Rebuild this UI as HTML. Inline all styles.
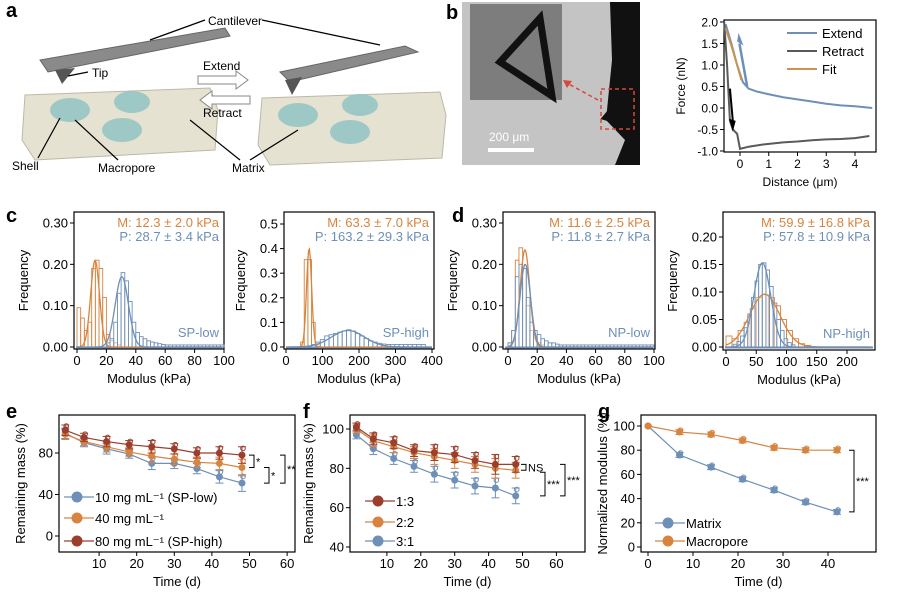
<!DOCTYPE html>
<html><head><meta charset="utf-8"><style>
html,body{margin:0;padding:0;background:#fff;}
svg{display:block;font-family:"Liberation Sans",Arial,sans-serif;}
</style></head><body>
<svg id="fig" width="914" height="606" viewBox="0 0 914 606" xmlns="http://www.w3.org/2000/svg">
<!-- panel letters -->
<g font-weight="bold" font-size="20" fill="#000">
<text x="6" y="17">a</text>
<text x="446" y="19">b</text>
<text x="6" y="222">c</text>
<text x="452" y="222">d</text>
<text x="6" y="418">e</text>
<text x="303" y="418">f</text>
<text x="598" y="418">g</text>
</g>
<!-- panel a illustration -->
<g>
<polygon points="25,95 210,88 218,110 215,150 35,160 22,140" fill="#e6e2d2" stroke="#bdb8a6"/>
<polygon points="262,98 440,92 446,115 442,158 270,165 258,145" fill="#e6e2d2" stroke="#bdb8a6"/>
<ellipse cx="70" cy="110" rx="20" ry="12" fill="#8fc3c4" opacity=".85"/>
<ellipse cx="132" cy="102" rx="18" ry="11" fill="#8fc3c4" opacity=".85"/>
<ellipse cx="122" cy="130" rx="20" ry="12" fill="#8fc3c4" opacity=".85"/>
<ellipse cx="298" cy="115" rx="20" ry="12" fill="#8fc3c4" opacity=".85"/>
<ellipse cx="360" cy="105" rx="18" ry="11" fill="#8fc3c4" opacity=".85"/>
<ellipse cx="350" cy="132" rx="20" ry="12" fill="#8fc3c4" opacity=".85"/>
<polygon points="40,60 225,28 230,36 48,72" fill="#8a8a8a" stroke="#666"/>
<polygon points="55,70 75,68 62,84" fill="#555"/>
<polygon points="280,72 405,46 418,52 290,82" fill="#8a8a8a" stroke="#666"/>
<polygon points="285,80 302,77 292,95" fill="#555"/>
<g stroke="#000" stroke-width="1.2" fill="none">
<line x1="205" y1="20" x2="150" y2="40"/><line x1="262" y1="20" x2="380" y2="45"/>
<line x1="88" y1="72" x2="68" y2="76"/>
<line x1="38" y1="158" x2="60" y2="118"/><line x1="118" y1="160" x2="75" y2="120"/>
<line x1="240" y1="160" x2="190" y2="120"/><line x1="250" y1="160" x2="298" y2="130"/>
</g>
<polygon points="198,76 236,76 236,71 248,80 236,89 236,84 198,84" fill="#fff" stroke="#888"/>
<polygon points="250,96 212,96 212,91 200,100 212,109 212,104 250,104" fill="#fff" stroke="#888"/>
<g font-size="12" fill="#000">
<text x="208" y="25">Cantilever</text>
<text x="92" y="77">Tip</text>
<text x="203" y="70">Extend</text>
<text x="203" y="117">Retract</text>
<text x="12" y="170">Shell</text>
<text x="98" y="172">Macropore</text>
<text x="232" y="172">Matrix</text>
</g>
</g>
<!-- panel b image -->
<g>
<rect x="462" y="2" width="178" height="163" fill="#c4c4c4"/>
<polygon points="610,2 640,2 640,165 615,165 625,140 606,120 612,60" fill="#111"/>
<polygon points="604,118 622,96 624,124" fill="none" stroke="#111" stroke-width="4"/>
<rect x="470" y="4" width="92" height="96" fill="#7d7d7d"/>
<polygon points="500,62 540,18 552,96" fill="none" stroke="#111" stroke-width="7"/>
<rect x="601" y="89" width="33" height="40" fill="none" stroke="#d9473b" stroke-width="1.5" stroke-dasharray="4,3"/>
<line x1="598" y1="100" x2="565" y2="82" stroke="#d9473b" stroke-width="1.5" stroke-dasharray="4,3"/>
<polygon points="563,80 572,81 567,88" fill="#d9473b"/>
<rect x="488" y="148" width="46" height="4" fill="#fff"/>
<text x="489" y="141" font-size="12" fill="#fff">200 μm</text>
</g>
<g id="charts"></g>
</svg>
<script>
// ---------- data ----------
// panel b force curve
const extendX=[-0.5,-0.3,-0.1,0.1,0.3,0.6,1.0,1.5,2.0,2.5,3.0,3.5,4.0,4.6];
const extendY=[1.95,1.5,1.0,0.6,0.45,0.38,0.32,0.25,0.2,0.15,0.1,0.06,0.04,0.0];
const retractX=[-0.55,-0.45,-0.35,-0.25,-0.1,0.0,0.3,0.8,1.5,2.0,2.5,3.0,3.5,4.0,4.5];
const retractY=[2.0,1.0,-0.3,-0.5,-0.6,-0.95,-0.9,-0.85,-0.8,-0.78,-0.75,-0.73,-0.72,-0.7,-0.65];
const fitX=[-0.5,-0.3,-0.1,0.05];
const fitY=[1.85,1.45,1.0,0.65];
// histograms: bin start, bin width, heights
const c1OrangeStart=0, c1OrangeW=2.5;
const c1Orange=[0.095,0.07,0.04,0.06,0.19,0.21,0.19,0.12,0.03,0.015,0.01,0.005];
const c1BlueStart=20, c1BlueW=2.5;
const c1Blue=[0.01,0.02,0.06,0.13,0.18,0.16,0.11,0.06,0.035,0.025,0.02,0.015,0.012,0.01,0.008,0.006,0.005,0.005,0.005,0.005,0.005,0.005,0.005,0.005,0.005,0.005,0.005,0.005,0.005,0.005,0.005,0.005];
const c2OrangeStart=40, c2OrangeW=10;
const c2Orange=[0.02,0.355,0.355,0.1,0.01];
const c2BlueStart=70, c2BlueW=12;
const c2Blue=[0.01,0.02,0.03,0.045,0.05,0.055,0.06,0.065,0.07,0.065,0.055,0.045,0.035,0.025,0.02,0.015,0.012,0.01,0.01,0.01,0.01,0.01,0.01,0.01,0.01,0.01];
const d1OrangeStart=0, d1OrangeW=2.5;
const d1Orange=[0.01,0.04,0.21,0.24,0.19,0.1,0.04,0.02,0.01,0.005];
const d1BlueStart=0, d1BlueW=2.5;
const d1Blue=[0.01,0.04,0.17,0.2,0.19,0.12,0.06,0.04,0.03,0.02,0.015,0.01,0.01,0.007,0.005,0.005,0.005,0.005,0.005,0.005,0.005,0.005,0.005,0.005,0.005,0.005,0.005,0.005,0.005,0.005,0.005,0.005,0.005,0.005,0.005,0.005,0.005,0.005,0.005,0.005];
const d2OrangeStart=0, d2OrangeW=10;
const d2Orange=[0.02,0.015,0.03,0.045,0.07,0.09,0.095,0.09,0.075,0.05,0.03,0.015,0.006,0.003];
const d2BlueStart=12, d2BlueW=6;
const d2Blue=[0.005,0.01,0.02,0.035,0.06,0.09,0.12,0.15,0.153,0.14,0.11,0.08,0.05,0.03,0.015,0.008,0.004];
// gaussian fit parameters [mean, sd, peak]
const c1OrangeFit=[12.3,3.0,0.21], c1BlueFit=[30.5,4.5,0.17];
const c2OrangeFit=[63.3,7.0,0.40], c2BlueFit=[170,45,0.067];
const d1OrangeFit=[11.6,3.3,0.235], d1BlueFit=[11.8,3.6,0.20];
const d2OrangeFit=[64,25,0.096], d2BlueFit=[60,14,0.153];
// panel e
const eDays=[1,6,12,18,24,30,36,42,48];
const eLow=[99,90,84,79,70,70,65,57,51];
const eMid=[98,91,86,81,77,74,71,70,66];
const eHigh=[102,95,91,88,86,84,80,80,78];
const eErr=[5,4,5,4,6,5,5,6,8];
// panel f
const fDays=[1,6,12,18,24,30,36,42,48];
const f13=[101,95,93,89,88,87,84,82,82];
const f22=[100,94,91,88,86,84,82,80,79];
const f31=[97,90,85,81,77,74,71,70,66];
const fErr=[2,3,3,3,4,4,4,5,4];
// panel g
const gDays=[0,7,14,21,28,35,42];
const gMatrix=[100,76,66,56,47,37,29];
const gMacro=[100,95,93,88,82,80,80];
const gErr=[0,2,2,2,2,2,2];
// tick labels
const bXTicks=[0,1,2,3,4], bYTicks=[-1.0,-0.5,0.0,0.5,1.0,1.5,2.0];
const c1XTicks=[0,20,40,60,80,100], c1YTicks=[0.00,0.10,0.20,0.30];
const c2XTicks=[0,100,200,300,400], c2YTicks=[0.0,0.1,0.2,0.3,0.4,0.5];
const d2XTicks=[0,50,100,150,200], d2YTicks=[0.00,0.05,0.10,0.15,0.20];
const eXTicks=[10,20,30,40,50,60], eYTicks=[0,40,80];
const fXTicks=[10,20,30,40,50,60], fYTicks=[40,60,80,100];
const gXTicks=[0,10,20,30,40], gYTicks=[0,20,40,60,80,100];

const BLUE='#6d8fb8', ORANGE='#d8843f', RED='#9c3e2e', GRAY='#5a5a5a';
const NS='http://www.w3.org/2000/svg';
const root=document.getElementById('charts');
function mk(t,a,p){const e=document.createElementNS(NS,t);for(const k in a)e.setAttribute(k,a[k]);(p||root).appendChild(e);return e;}
function tx(s,a,p){const e=mk('text',a,p);e.textContent=s;return e;}
function lin(v0,p0,v1,p1){return v=>p0+(v-v0)*(p1-p0)/(v1-v0);}

function frame(name,box,sx,sy,xt,yt,xfmt,yfmt,xlabel,ylabel,ylabX,fs){
  const g=mk('g',{});
  
  
  const r=mk('rect',{x:box[0],y:box[1],width:box[2]-box[0],height:box[3]-box[1],fill:'none',stroke:'#000','stroke-width':1.2},g);
  
  
  xt.forEach(v=>{const x=sx(v);mk('line',{x1:x,x2:x,y1:box[3],y2:box[3]+4,stroke:'#000'},g);
    const t=tx(xfmt(v),{x:x,y:box[3]+16,'font-size':fs,'text-anchor':'middle'},g);
    
    });
  yt.forEach(v=>{const y=sy(v);mk('line',{x1:box[0]-4,x2:box[0],y1:y,y2:y,stroke:'#000'},g);
    const t=tx(yfmt(v),{x:box[0]-6,y:y+4.5,'font-size':fs,'text-anchor':'end'},g);
    
    });
  const xl=tx(xlabel,{x:(box[0]+box[2])/2,y:box[3]+34,'font-size':fs,'text-anchor':'middle'},g);
  
  
  const cy=(box[1]+box[3])/2;
  const yl=tx(ylabel,{x:ylabX,y:cy,'font-size':fs,'text-anchor':'middle',transform:'rotate(-90 '+ylabX+' '+cy+')'},g);
  
  
  return g;
}
function poly(xs,ys,sx,sy,col,w,g,name){
  const p=mk('polyline',{points:xs.map((x,i)=>sx(x)+','+sy(ys[i])).join(' '),fill:'none',stroke:col,'stroke-width':w},g);
  
  
  return p;
}
function hist(start,w,vals,sx,sy,col,g,name){
  vals.forEach((v,i)=>{const x0=sx(start+i*w),x1=sx(start+(i+1)*w);
    const b=mk('rect',{x:x0,y:sy(v),width:x1-x0,height:sy(0)-sy(v),fill:'#fff','fill-opacity':0.4,stroke:col,'stroke-width':0.9},g);
    
    });
}
function fit(p,xmax,sx,sy,col,g,name){
  const xs=[],ys=[];for(let i=0;i<=200;i++){const x=xmax*i/200;xs.push(x);ys.push(p[2]*Math.exp(-((x-p[0])**2)/(2*p[1]*p[1])));}
  poly(xs,ys,sx,sy,col,1.3,g,name);
}
function histPanel(name,box,sx,sy,xt,yt,yf,oS,oW,oV,oFit,bS,bW,bV,bFit,xmax,mtxt,ptxt,tag,ylabX,blueFirst){
  const g=frame(name,box,sx,sy,xt,yt,v=>String(v),yf,'Modulus (kPa)','Frequency',ylabX,13);
  const draw=[()=>{hist(bS,bW,bV,sx,sy,BLUE,g,'pore-shell');},()=>{hist(oS,oW,oV,sx,sy,ORANGE,g,'matrix');}];
  if(blueFirst){draw[0]();draw[1]();}else{draw[1]();draw[0]();}
  mk('line',{x1:box[0]+2,x2:box[2]-2,y1:sy(0)+0.5,y2:sy(0)+0.5,stroke:BLUE,'stroke-width':2},g);
  fit(oFit,xmax,sx,sy,ORANGE,g,'matrix-fit');
  fit(bFit,xmax,sx,sy,BLUE,g,'pore-fit');
  const m=tx(mtxt,{x:box[2]-5,y:box[1]+15,'font-size':13,'text-anchor':'end',fill:ORANGE},g);
  
  
  const p=tx(ptxt,{x:box[2]-5,y:box[1]+29,'font-size':13,'text-anchor':'end',fill:BLUE},g);
  
  
  const t=tx(tag,{x:box[2]-5,y:box[3]-12,'font-size':13,'text-anchor':'end',fill:BLUE},g);
  
  
}
const f2=v=>v.toFixed(2), f1=v=>v.toFixed(1);

// ---- panel b chart ----
(function(){
  const box=[724,20,876,152];
  const sx=lin(0,740,4,855), sy=lin(2,22,-1,151);
  const g=frame('force-distance-chart',box,sx,sy,bXTicks,bYTicks,v=>String(v),f1,'Distance (μm)','Force (nN)',685,12);
  poly(extendX,extendY,sx,sy,BLUE,2,g,'extend-curve');
  poly(retractX,retractY,sx,sy,GRAY,2,g,'retract-curve');
  poly(fitX,fitY,sx,sy,'#c8944f',2,g,'fit-curve');
  mk('line',{x1:sx(0.25),y1:sy(0.5),x2:sx(-0.02),y2:sy(1.5),stroke:BLUE,'stroke-width':2.5},g);
  mk('polygon',{points:(sx(-0.1))+','+sy(1.55)+' '+(sx(0.12))+','+sy(1.45)+' '+sx(-0.05)+','+sy(1.75),fill:BLUE},g);
  mk('line',{x1:sx(-0.35),y1:sy(0.45),x2:sx(-0.25),y2:sy(-0.3),stroke:'#000','stroke-width':2},g);
  mk('polygon',{points:sx(-0.38)+','+sy(-0.25)+' '+sx(-0.15)+','+sy(-0.3)+' '+sx(-0.25)+','+sy(-0.55),fill:'#000'},g);
  const leg=[['Extend',BLUE],['Retract',GRAY],['Fit','#c8944f']];
  leg.forEach((l,i)=>{const y=33+i*18;mk('line',{x1:787,x2:817,y1:y,y2:y,stroke:l[1],'stroke-width':2},g);
    const t=tx(l[0],{x:822,y:y+5,'font-size':13},g);
    
    });
})();

// ---- histograms ----
histPanel('sp-low-histogram',[74,212,224,349],lin(0,77,100,224),lin(0,347,0.3,223),c1XTicks,c1YTicks,f2,
  c1OrangeStart,c1OrangeW,c1Orange,c1OrangeFit,c1BlueStart,c1BlueW,c1Blue,c1BlueFit,100,'M: 12.3 ± 2.0 kPa','P: 28.7 ± 3.4 kPa','SP-low',28,false);
histPanel('sp-high-histogram',[284,212,434,349],lin(0,286,400,432),lin(0,347,0.5,224),c2XTicks,c2YTicks,f1,
  c2OrangeStart,c2OrangeW,c2Orange,c2OrangeFit,c2BlueStart,c2BlueW,c2Blue,c2BlueFit,400,'M: 63.3 ± 7.0 kPa','P: 163.2 ± 29.3 kPa','SP-high',245,false);
histPanel('np-low-histogram',[503,212,655,349],lin(0,508,100,654),lin(0,347,0.3,223),c1XTicks,c1YTicks,f2,
  d1OrangeStart,d1OrangeW,d1Orange,d1OrangeFit,d1BlueStart,d1BlueW,d1Blue,d1BlueFit,100,'M: 11.6 ± 2.5 kPa','P: 11.8 ± 2.7 kPa','NP-low',457,false);
histPanel('np-high-histogram',[723,212,875,350],lin(0,726,200,847),lin(0,347,0.2,237),d2XTicks,d2YTicks,f2,
  d2OrangeStart,d2OrangeW,d2Orange,d2OrangeFit,d2BlueStart,d2BlueW,d2Blue,d2BlueFit,240,'M: 59.9 ± 16.8 kPa','P: 57.8 ± 10.9 kPa','NP-high',677,false);

// ---- line panels ----
function series(days,vals,err,sx,sy,col,g,name){
  poly(days,vals,sx,sy,col,1.2,g,name+'-line');
  days.forEach((d,i)=>{const x=sx(d),y=sy(vals[i]);
    if(err[i]>0){mk('line',{x1:x,x2:x,y1:sy(vals[i]-err[i]),y2:sy(vals[i]+err[i]),stroke:col},g);
      mk('line',{x1:x-4,x2:x+4,y1:sy(vals[i]+err[i]),y2:sy(vals[i]+err[i]),stroke:col},g);
      mk('line',{x1:x-4,x2:x+4,y1:sy(vals[i]-err[i]),y2:sy(vals[i]-err[i]),stroke:col},g);}
    const c=mk('circle',{cx:x,cy:y,r:3.5,fill:col},g);
    
    
    const o=mk('circle',{cx:x+1,cy:sy(vals[i]+err[i]*0.8),r:2.3,fill:'none',stroke:col},g);
    
    });
}
function legend(items,x,ys,g){
  items.forEach((it,i)=>{const y=ys[i];
    mk('line',{x1:x,x2:x+30,y1:y,y2:y,stroke:it[1],'stroke-width':1.2},g);
    mk('circle',{cx:x+13,cy:y,r:5.5,fill:it[1]},g);
    const t=tx(it[0],{x:x+31,y:y+5,'font-size':13},g);
    
    });
}
function bracket(x,y1,y2,label,g){
  mk('polyline',{points:(x-5)+','+y1+' '+x+','+y1+' '+x+','+y2+' '+(x-5)+','+y2,fill:'none',stroke:'#000'},g);
  const t=tx(label,{x:x+2,y:(y1+y2)/2+4,'font-size':11},g);
  
  
}
(function(){
  const box=[59,415,295,552], sx=lin(0,61.5,10,99.1), sy=lin(0,536,80,453);
  const g=frame('mass-vs-concentration-chart',box,sx,sy,eXTicks,eYTicks,String,String,'Time (d)','Remaining mass (%)',25,13);
  series(eDays,eLow,eErr,sx,sy,BLUE,g,'sp-low');
  series(eDays,eMid,eErr,sx,sy,ORANGE,g,'mid');
  series(eDays,eHigh,eErr,sx,sy,RED,g,'sp-high');
  bracket(254,sy(78),sy(66),'*',g);
  bracket(269,sy(66),sy(51),'*',g);
  bracket(285,sy(78),sy(51),'**',g);
  const gl=mk('g',{},g);
  legend([['10 mg mL⁻¹ (SP-low)',BLUE],['40 mg mL⁻¹',ORANGE],['80 mg mL⁻¹ (SP-high)',RED]],64,[497,518,541],gl);
})();
(function(){
  const box=[350,415,585,552], sx=lin(0,353,10,386.9), sy=lin(40,547,100,429);
  const g=frame('mass-vs-ratio-chart',box,sx,sy,fXTicks,fYTicks,String,String,'Time (d)','Remaining mass (%)',313,13);
  series(fDays,f31,fErr,sx,sy,BLUE,g,'ratio-3-1');
  series(fDays,f22,fErr,sx,sy,ORANGE,g,'ratio-2-2');
  series(fDays,f13,fErr,sx,sy,RED,g,'ratio-1-3');
  bracket(526,sy(82),sy(79),'NS',g);
  bracket(545,sy(78),sy(66),'***',g);
  bracket(565,sy(82),sy(66),'***',g);
  legend([['1:3',RED],['2:2',ORANGE],['3:1',BLUE]],365,[501,522,541],g);
})();
(function(){
  const box=[641,415,876,552], sx=lin(0,648,40,828), sy=lin(0,547,100,426);
  const g=frame('normalized-modulus-chart',box,sx,sy,gXTicks,gYTicks,String,String,'Time (d)','Normalized modulus (%)',607,13);
  series(gDays,gMatrix,gErr,sx,sy,BLUE,g,'matrix');
  series(gDays,gMacro,gErr,sx,sy,ORANGE,g,'macropore');
  bracket(854,sy(80),sy(29),'***',g);
  legend([['Matrix',BLUE],['Macropore',ORANGE]],655,[523,541],g);
})();
</script>
</body></html>
